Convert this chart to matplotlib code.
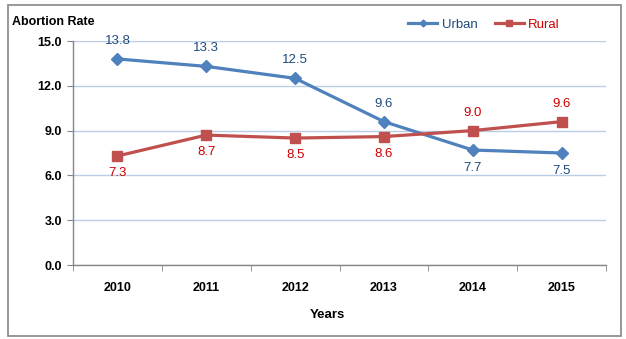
import matplotlib
matplotlib.use("Agg")
import matplotlib.pyplot as plt
from matplotlib.patches import Rectangle
from matplotlib.lines import Line2D

plt.rcParams['font.family'] = ['Liberation Sans', 'DejaVu Sans']

years = ["2010", "2011", "2012", "2013", "2014", "2015"]
urban = [13.8, 13.3, 12.5, 9.6, 7.7, 7.5]
rural = [7.3, 8.7, 8.5, 8.6, 9.0, 9.6]
y_ticks = [0.0, 3.0, 6.0, 9.0, 12.0, 15.0]

# label placement: +1 above the point, -1 below
urban_side = [1, 1, 1, 1, -1, -1]
rural_side = [-1, -1, -1, -1, 1, 1]

W, H = 626, 339
fig = plt.figure(figsize=(W / 100, H / 100), dpi=100)
ax = fig.add_axes([73 / W, 1 - 265 / H, (606 - 73) / W, (265 - 41) / H])

blue = "#4F81BD"
red = "#C0504D"
blue_txt = "#1F497D"
red_txt = "#CC0000"

x = list(range(len(years)))
ax.plot(x, urban, color=blue, lw=2.3, marker="D", ms=6.5, zorder=3)
ax.plot(x, rural, color=red, lw=2.3, marker="s", ms=6.5, zorder=3)

for xi, v, s in zip(x, urban, urban_side):
    ax.annotate(f"{v:.1f}", (xi, v), xytext=(0, 13 * s), textcoords="offset points",
                ha="center", va="center", fontsize=9.5, color=blue_txt)
for xi, v, s in zip(x, rural, rural_side):
    ax.annotate(f"{v:.1f}", (xi, v), xytext=(0, 12.5 * s), textcoords="offset points",
                ha="center", va="center", fontsize=9.5, color=red_txt)

ax.set_xlim(-0.5, len(years) - 0.5)
ax.set_ylim(0, 15)
ax.set_yticks(y_ticks)
ax.set_yticklabels([f"{t:.1f}" for t in y_ticks], fontsize=9, fontweight="bold")
ax.set_xticks(x)
ax.set_xticklabels(years, fontsize=9, fontweight="bold")
ax.tick_params(axis="x", which="major", length=0, pad=12)
ax.set_xticks([i - 0.5 for i in range(len(years) + 1)], minor=True)
ax.tick_params(axis="x", which="minor", length=4, color="#868686", direction="out")
ax.tick_params(axis="y", length=4, color="#868686", direction="out", pad=4)

ax.grid(axis="y", color="#B9CDE5", lw=1)
ax.set_axisbelow(True)
for side in ("top", "right"):
    ax.spines[side].set_visible(False)
for side in ("left", "bottom"):
    ax.spines[side].set_color("#868686")
    ax.spines[side].set_linewidth(1)

fig.text(12 / W, 1 - 22 / H, "Abortion Rate", fontsize=9, fontweight="bold",
         ha="left", va="center")
fig.text(327 / W, 1 - 315 / H, "Years", fontsize=9.5, fontweight="bold",
         ha="center", va="center")

handles = [
    Line2D([], [], color=blue, lw=2.3, marker="D", ms=3.5),
    Line2D([], [], color=red, lw=2.3, marker="s", ms=5),
]
leg = fig.legend(handles, ["Urban", "Rural"], loc="center", bbox_to_anchor=(484 / W, 1 - 25 / H),
                 ncol=2, frameon=False, fontsize=9.5, handlelength=2.2, columnspacing=1.3,
                 handletextpad=0.35)
for t, c in zip(leg.get_texts(), [blue_txt, red_txt]):
    t.set_color(c)

fig.add_artist(Rectangle((8 / W, 1 - 336 / H), (621 - 8) / W, (336 - 5) / H,
                         transform=fig.transFigure, fill=False, edgecolor="#868686", lw=1.2))

fig.savefig("out.png", dpi=100)
